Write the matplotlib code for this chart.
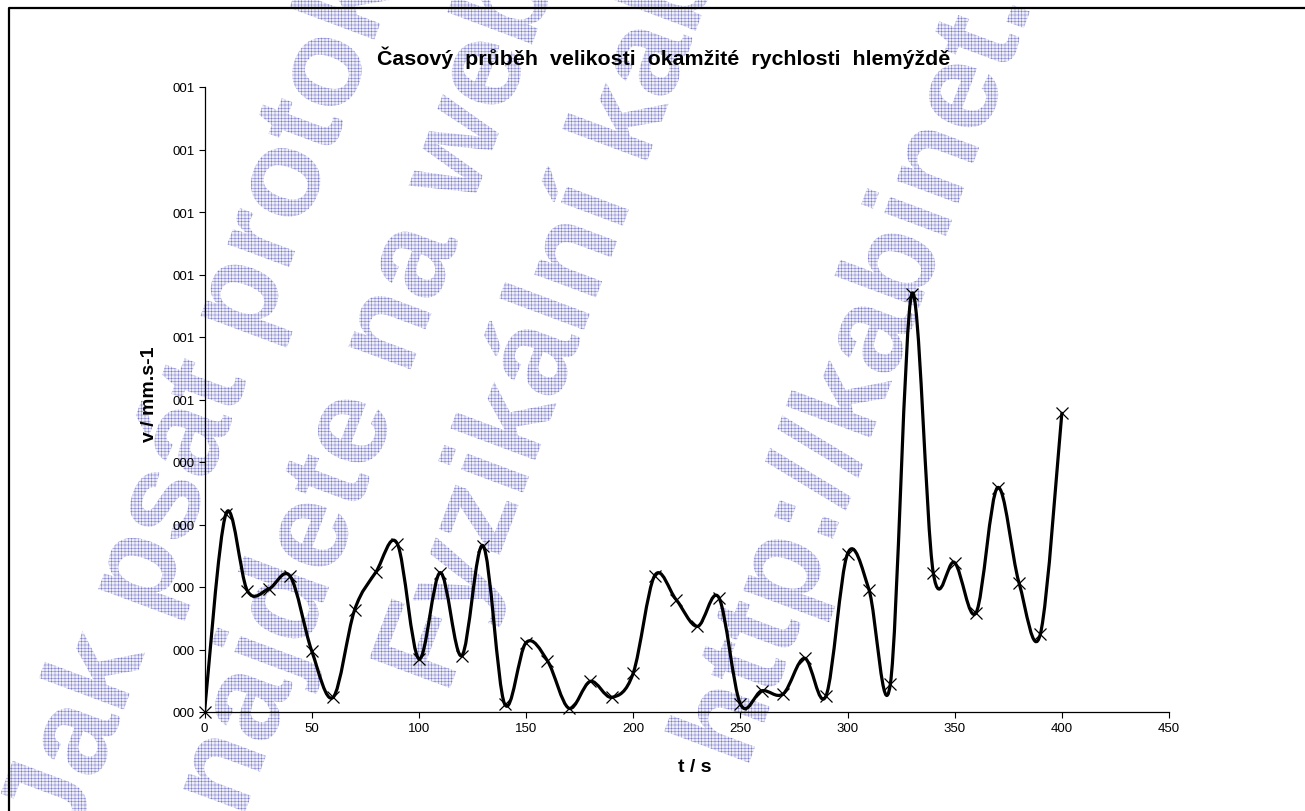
import matplotlib
matplotlib.use('Agg')
import matplotlib.pyplot as plt
from matplotlib.path import Path
from matplotlib.patches import PathPatch
from matplotlib.textpath import TextPath
from matplotlib.font_manager import FontProperties
from matplotlib.transforms import Affine2D, IdentityTransform
from matplotlib.lines import Line2D

# data (y in units of the axis grid step; labels on the axis are as in the original)
cas = [0, 10, 20, 30, 40, 50, 60, 70, 80, 90, 100, 110, 120, 130, 140, 150, 160, 170, 180, 190, 200,
       210, 220, 230, 240, 250, 260, 270, 280, 290, 300, 310, 320, 330, 340, 350, 360, 370, 380, 390, 400]
rychlost = [0, 3.17, 1.94, 1.97, 2.17, 0.98, 0.235, 1.63, 2.24, 2.69, 0.85, 2.23, 0.90, 2.66, 0.13,
            1.11, 0.82, 0.06, 0.49, 0.235, 0.62, 2.18, 1.80, 1.37, 1.83, 0.13, 0.34, 0.29, 0.86, 0.26,
            2.53, 1.96, 0.45, 6.69, 2.23, 2.39, 1.59, 3.59, 2.07, 1.25, 4.78]
y_ticks = [0, 1, 2, 3, 4, 5, 6, 7, 8, 9, 10]
y_labels = ['000', '000', '000', '000', '000', '001', '001', '001', '001', '001', '001']
x_ticks = [0, 50, 100, 150, 200, 250, 300, 350, 400, 450]

titulek = 'Časový  průběh  velikosti  okamžité  rychlosti  hlemýždě'
vodoznak = ['Jak psát protokol?', 'najdete na webu', 'Fyzikální kabinet', 'http://kabinet.fyzika.net']
# baseline start (pixels from bottom-left) of each watermark line
vodoznak_pos = [(72, -37), (242, -9), (447, 115), (746, 40)]

plt.rcParams['font.family'] = ['Liberation Sans', 'DejaVu Sans']
plt.rcParams['hatch.linewidth'] = 0.35


def hladka_cesta(xs, ys):
    # smoothed line like in the spreadsheet (cubic bezier through the points)
    n = len(xs)
    verts = [(xs[0], ys[0])]
    codes = [Path.MOVETO]
    for i in range(n - 1):
        x0, y0 = xs[max(i - 1, 0)], ys[max(i - 1, 0)]
        x1, y1 = xs[i], ys[i]
        x2, y2 = xs[i + 1], ys[i + 1]
        x3, y3 = xs[min(i + 2, n - 1)], ys[min(i + 2, n - 1)]
        verts.append((x1 + (x2 - x0) / 6, y1 + (y2 - y0) / 6))
        verts.append((x2 - (x3 - x1) / 6, y2 - (y3 - y1) / 6))
        verts.append((x2, y2))
        codes += [Path.CURVE4] * 3
    return Path(verts, codes)


W, H = 1305, 812
fig = plt.figure(figsize=(W / 100, H / 100), dpi=100)

# watermark
fp = FontProperties(family='Liberation Sans', weight='bold')
for text, (bx, by) in zip(vodoznak, vodoznak_pos):
    tp = TextPath((0, 0), text, size=125, prop=fp)
    tr = Affine2D().rotate_deg(69.5).translate(bx, by) + IdentityTransform()
    patch = PathPatch(tp, transform=tr, facecolor='#eeeef9', edgecolor='#7a7acb',
                      linewidth=0, hatch='+++++', zorder=0)
    fig.add_artist(patch)

ax = fig.add_axes([204.5 / W, 99 / H, 964.5 / W, 625 / H])
ax.patch.set_alpha(0)
ax.set_zorder(2)

ax.add_patch(PathPatch(hladka_cesta(cas, rychlost), fill=False, edgecolor='black',
                       linewidth=2.3, capstyle='round', joinstyle='round', zorder=3))
ax.plot(cas, rychlost, linestyle='none', marker='x', markersize=9, markeredgewidth=0.9,
        color='black', clip_on=False, zorder=4)

ax.set_xlim(0, 450)
ax.set_ylim(0, 10)
ax.set_xticks(x_ticks)
ax.set_yticks(y_ticks)
ax.set_yticklabels(y_labels)
ax.spines['top'].set_visible(False)
ax.spines['right'].set_visible(False)
ax.spines['left'].set_linewidth(0.9)
ax.spines['bottom'].set_linewidth(0.9)
ax.tick_params(direction='out', length=4, width=0.8, labelsize=9.5, pad=3)

fig.text(664 / W, 1 - 58 / H, titulek, ha='center', va='center', fontsize=15.4, weight='bold')
fig.text(149 / W, 1 - 394 / H, 'v / mm.s-1', rotation=90, ha='center', va='center',
         fontsize=14, weight='bold')
fig.text(695 / W, 1 - 768 / H, 't / s', ha='center', va='center', fontsize=14, weight='bold')

# frame of the chart area
fig.add_artist(Line2D([9 / W, 9 / W, 1.01], [-0.01, 1 - 9 / H, 1 - 9 / H],
                      transform=fig.transFigure, color='black', linewidth=1.6))

fig.savefig('out.png', dpi=100)
